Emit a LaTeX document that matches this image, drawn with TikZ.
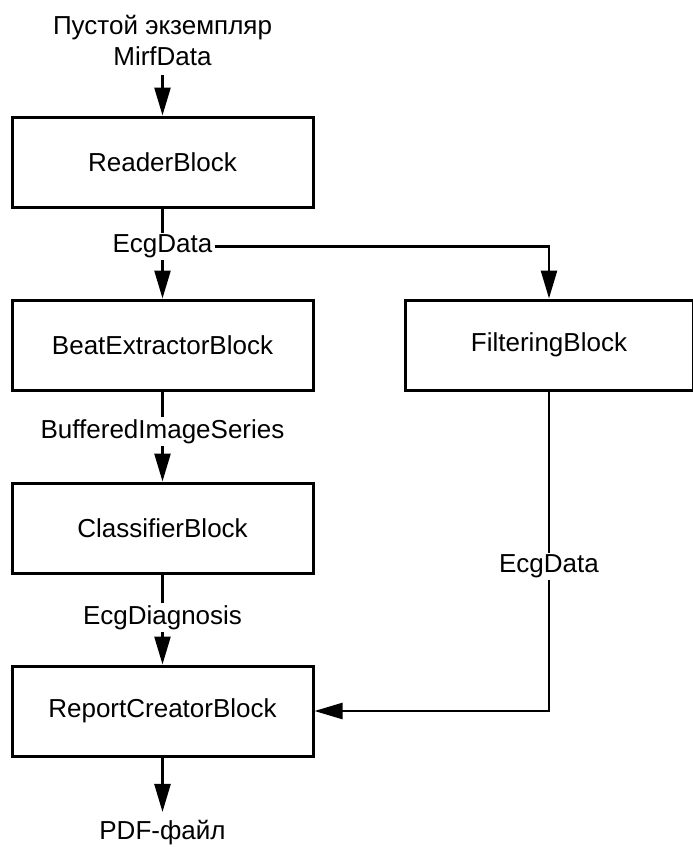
\documentclass[tikz,border=0pt]{standalone}
\usepackage{fontspec}
\setmainfont{Liberation Sans}
\usetikzlibrary{arrows.meta,positioning}
\tikzstyle{block} = [rectangle, draw=black, line width=3pt, fill=white, text=black, text centered, font=\fontsize{26}{31}\selectfont, minimum width=301pt, minimum height=90pt, inner sep=0pt]
\tikzstyle{lbl} = [fill=white, text=black, text centered, font=\fontsize{26}{31}\selectfont, inner sep=2pt]
\tikzstyle{tline} = [draw, line width=2.5pt]
\tikzstyle{tedge} = [draw, line width=2.5pt, -{Triangle[length=28pt,width=16pt]}]

\begin{document}
\begin{tikzpicture}[x=1pt, y=1pt]
\useasboundingbox (0,0) rectangle (693,-847);

% blocks =============================

% left column
\node[block] (reader) at (162.5,-162) {ReaderBlock};
\node[block, below=90pt of reader] (beat) {BeatExtractorBlock};
\node[block, below=90pt of beat] (classifier) {ClassifierBlock};
\node[block, below=90pt of classifier] (report) {ReportCreatorBlock};

% right column
\node[block, right=89pt of beat, minimum width=288pt] (filter) {FilteringBlock};

% input and output
\node[lbl, align=center, inner ysep=10pt] (src) at (162.5,-40) {Пустой экземпляр\\MirfData};
\node[lbl] (pdf) at ([yshift=-75pt]report.south) {PDF-файл};

% edge labels
\node[lbl] (ecg1) at ([yshift=-38pt]reader.south) {EcgData};
\node[lbl] (buffered) at ([yshift=-40pt]beat.south) {BufferedImageSeries};
\node[lbl] (diagnosis) at ([yshift=-43pt]classifier.south) {EcgDiagnosis};
\node[lbl] (ecg2) at ([yshift=-175pt]filter.south) {EcgData};


% edges left column
\path[tedge] (src) -- (reader);

\path[tline] (reader) -- (ecg1);
\path[tedge] (ecg1) -- (beat);

\path[tline] (beat) -- (buffered);
\path[tedge] (buffered) -- (classifier);

\path[tline] (classifier) -- (diagnosis);
\path[tedge] (diagnosis) -- (report);

\path[tedge, shorten >=6pt] (report) -- (pdf);


% edges through filtering
\path[tedge] (ecg1.east) -| (filter);

\path[tline] (filter) -- (ecg2);
\path[tedge] (ecg2) |- (report);

\end{tikzpicture}
\end{document}
